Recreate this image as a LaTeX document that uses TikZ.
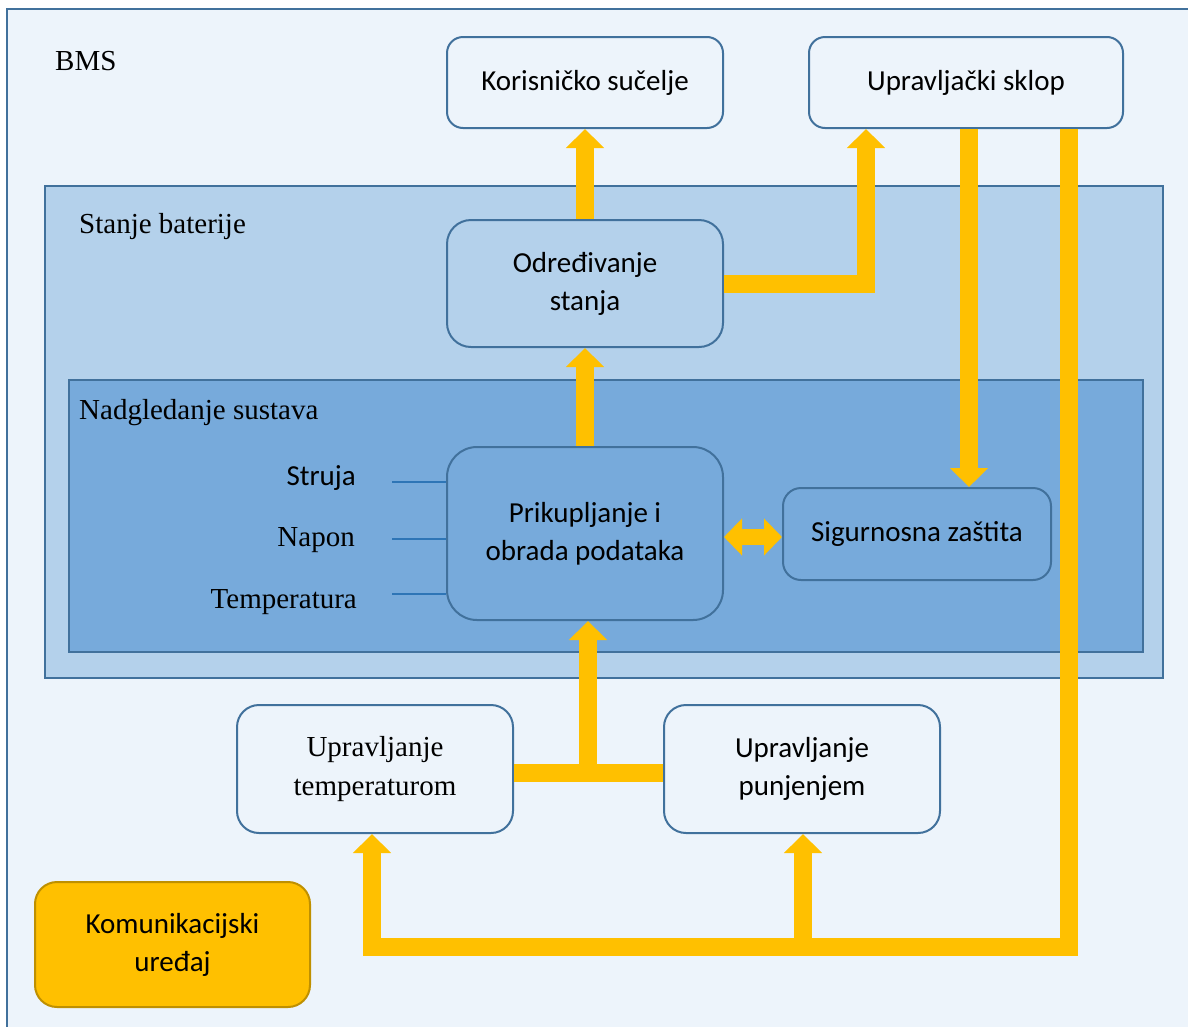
\documentclass[tikz,border=0pt]{standalone}
\usepackage{fontspec}
\setmainfont{Liberation Serif}
\newfontfamily\calfont{Carlito}
\usetikzlibrary{arrows.meta}
\definecolor{bgout}{HTML}{EDF4FB}
\definecolor{bgmid}{HTML}{B4D1EB}
\definecolor{bgin}{HTML}{77AADB}
\definecolor{bord}{HTML}{41719C}
\definecolor{yel}{HTML}{FFC000}
\definecolor{yelbord}{HTML}{BF9000}
\definecolor{tick}{HTML}{2E75B6}
\begin{document}
\begin{tikzpicture}[x=1pt,y=-1pt,
  region/.style={fill=#1,draw=bord,line width=2.2pt},
  box/.style={draw=bord,line width=2pt,fill=#1,align=center,inner sep=0pt,
    font=\calfont\fontsize{29}{38}\selectfont},
  yline/.style={draw=yel,line width=18pt},
  yarrow/.style={yline,-{Triangle[width=37pt,length=19pt]}},
  ydouble/.style={draw=yel,line width=16pt,{Triangle[width=36pt,length=18pt]}-{Triangle[width=36pt,length=18pt]}},
  serif/.style={font=\fontsize{29}{35}\selectfont,inner sep=0pt},
  sans/.style={font=\calfont\fontsize{29}{35}\selectfont,inner sep=0pt},
  tickline/.style={draw=tick,line width=2pt}
]
\clip (0,0) rectangle (1188,1026);
\fill[white] (0,0) rectangle (1188,1026);
% regions
\path[region=bgout] (7,9) rectangle (1210,1050);
\path[region=bgmid] (45,186) rectangle (1163,678);
\path[region=bgin] (69,380) rectangle (1143,652);
% labels
\node[serif,anchor=base west] (lbms) at (55,70) {BMS};
\node[serif,anchor=base west] (lsb) at (79,233) {Stanje baterije};
\node[serif,anchor=base west] (lns) at (79,419) {Nadgledanje sustava};
\node[sans,anchor=base east] (lstr) at (356,485) {Struja};
\node[serif,anchor=base east] (lnap) at (355,546) {Napon};
\node[serif,anchor=base east] (ltmp) at (357,608) {Temperatura};
% boxes
\node[box=bgout,minimum width=276pt,minimum height=91pt,rounded corners=16pt] (ks) at (585,82.5) {Korisničko sučelje};
\node[box=bgout,minimum width=314pt,minimum height=91pt,rounded corners=16pt] (us) at (966,82.5) {Upravljački sklop};
\node[box=bgmid,minimum width=276pt,minimum height=127pt,rounded corners=24pt] (od) at (585,283.5) {Određivanje\\stanja};
\node[box=bgin,minimum width=276pt,minimum height=173pt,rounded corners=30pt] (pr) at (585,533.5) {Prikupljanje i\\obrada podataka};
\node[box=bgin,minimum width=268pt,minimum height=92pt,rounded corners=18pt] (sz) at (917,534) {Sigurnosna zaštita};
\node[box=bgout,minimum width=276pt,minimum height=128pt,rounded corners=22pt,font=\fontsize{29}{39}\selectfont] (ut) at (375,769) {Upravljanje\\temperaturom};
\node[box=bgout,minimum width=276pt,minimum height=128pt,rounded corners=22pt] (up) at (802,769) {Upravljanje\\punjenjem};
\node[box=yel,draw=yelbord,minimum width=275pt,minimum height=125pt,rounded corners=22pt] (ku) at (172.5,944.5) {Komunikacijski\\uređaj};
% tick lines
\coordinate (t1) at (392,482);
\coordinate (t2) at (392,539);
\coordinate (t3) at (392,594);
\draw[tickline] (t1) -- (t1 -| pr.west);
\draw[tickline] (t2) -- (t2 -| pr.west);
\draw[tickline] (t3) -- (t3 -| pr.west);
% connectors
\coordinate (xa) at (866,0);
\coordinate (xs) at (969,0);
\coordinate (bR) at (1069,947);
\coordinate (bL) at (372,947);
\coordinate (bM) at (803,947);
\coordinate (j) at (588,773);
\coordinate (dd) at (0,537);
\draw[yarrow] (od.north) -- (ks.south);
\draw[yarrow] (pr.north) -- (od.south);
\draw[yarrow] (od.east) -| (us.south -| xa);
\draw[yarrow] (us.south -| xs) -- (sz.north -| xs);
\draw[yarrow] (us.south -| bR) -- (bR) -- (bL) -- (ut.south -| bL);
\draw[yarrow] (bM) -- (up.south -| bM);
\draw[yline] (ut.east |- j) -- (up.west |- j);
\draw[yarrow] (j) -- (pr.south -| j);
\draw[ydouble] (pr.east |- dd) -- (sz.west |- dd);
\end{tikzpicture}
\end{document}
